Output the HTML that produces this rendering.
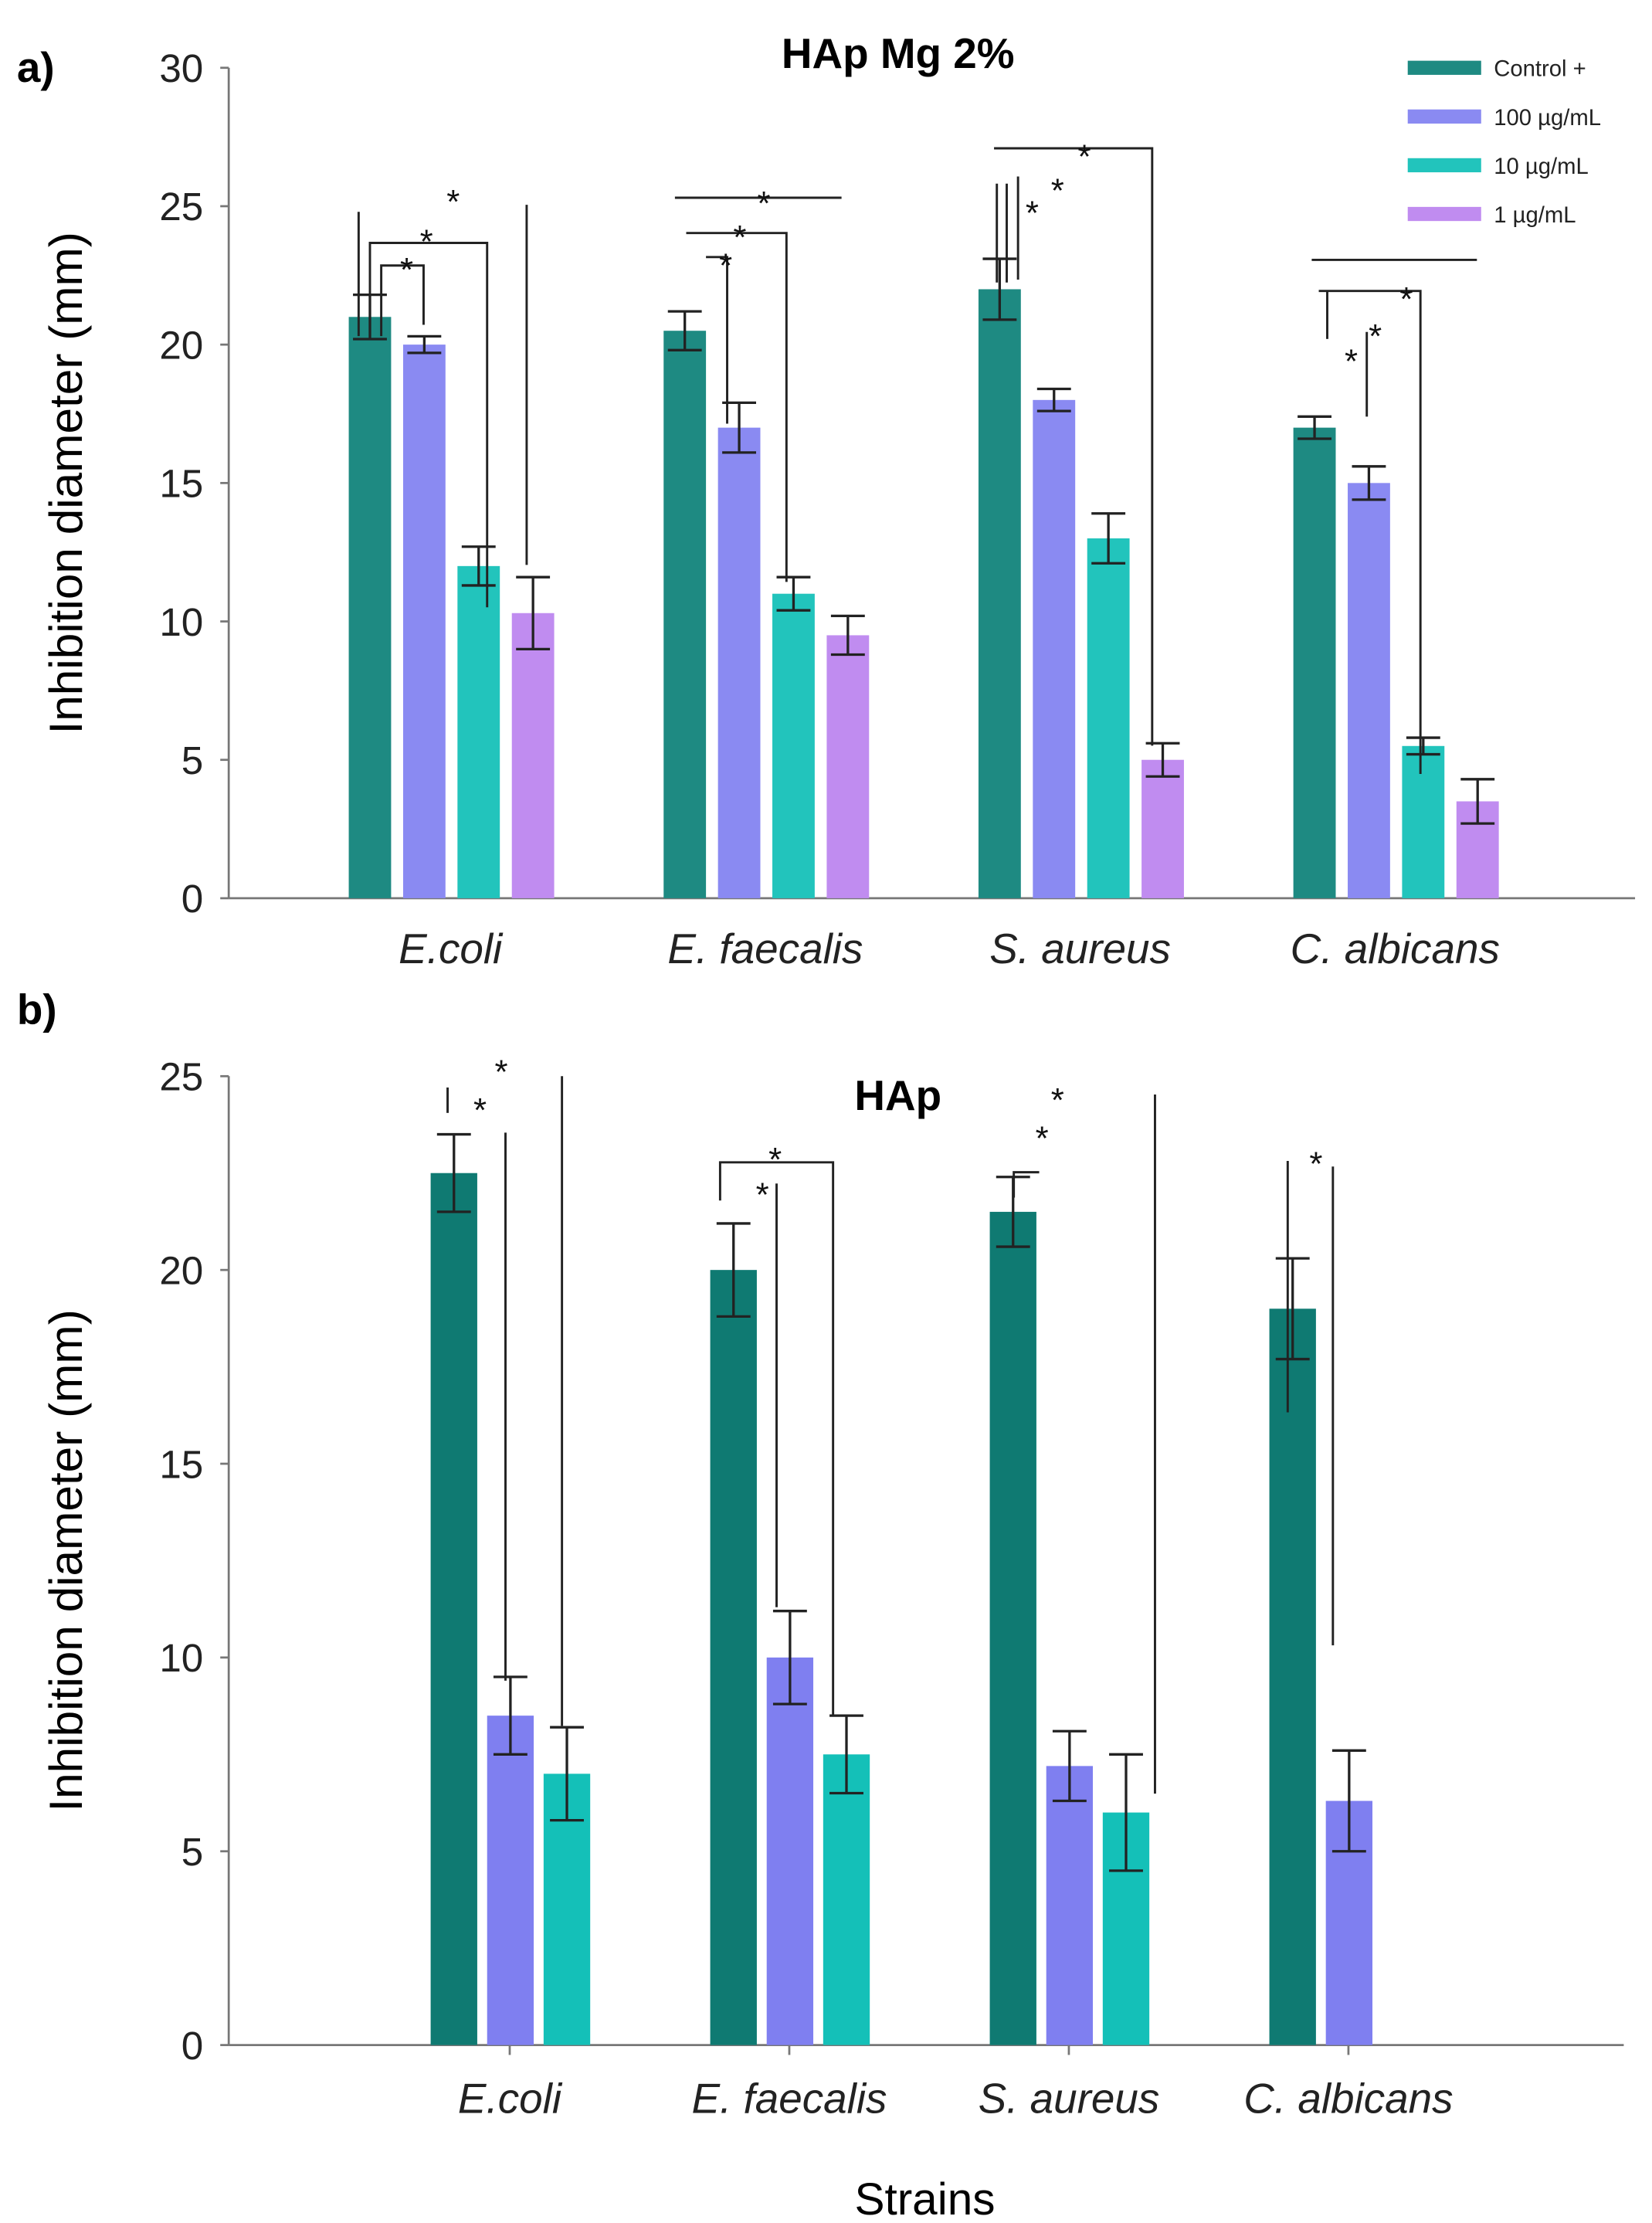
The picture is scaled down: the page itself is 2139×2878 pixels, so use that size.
<!DOCTYPE html>
<html><head><meta charset="utf-8"><style>
html,body{margin:0;padding:0;background:#fff}
svg{display:block}
text{font-family:"Liberation Sans",sans-serif}
</style></head><body>
<svg id="chart" width="2139" height="2878" viewBox="0 0 1170 1574" preserveAspectRatio="none" xmlns="http://www.w3.org/2000/svg">
<text x="12" y="58" font-size="30" font-weight="bold">a)</text>
<text x="636" y="48" font-size="30" font-weight="bold" text-anchor="middle">HAp Mg 2%</text>
<text transform="translate(58,342) rotate(-90)" font-size="33" text-anchor="middle">Inhibition diameter (mm)</text>
<text x="12" y="725" font-size="30" font-weight="bold">b)</text>
<text x="636" y="786" font-size="30" font-weight="bold" text-anchor="middle">HAp</text>
<text transform="translate(58,1105) rotate(-90)" font-size="33" text-anchor="middle">Inhibition diameter (mm)</text>
<text x="655" y="1568" font-size="32" text-anchor="middle">Strains</text>
<g id="ga"></g>
<g id="gb"></g>
<g id="legend"></g>
<g id="sig" stroke="#222" stroke-width="1.6" fill="none"></g>
</svg>
<script>
const categories = ["E.coli","E. faecalis","S. aureus","C. albicans"];
const seriesNames = ["Control +","100 µg/mL","10 µg/mL","1 µg/mL"];
const colorsA = ["#1e8a82","#8a8af2","#22c4bc","#c08cf0"];
const colorsB = ["#0f7a72","#7f7ff0","#14c0b8"];
const aControl = [21,20.5,22,17];
const a100 = [20,17,18,15];
const a10 = [12,11,13,5.5];
const a1 = [10.3,9.5,5,3.5];
const aErrControl = [0.8,0.7,1.1,0.4];
const aErr100 = [0.3,0.9,0.4,0.6];
const aErr10 = [0.7,0.6,0.9,0.3];
const aErr1 = [1.3,0.7,0.6,0.8];
const bControl = [22.5,20,21.5,19];
const b100 = [8.5,10,7.2,6.3];
const b10 = [7,7.5,6,null];
const bErrControl = [1,1.2,0.9,1.3];
const bErr100 = [1,1.2,0.9,1.3];
const bErr10 = [1.2,1,1.5,null];
const aTicks = [0,5,10,15,20,25,30];
const bTicks = [0,5,10,15,20,25];

const NS="http://www.w3.org/2000/svg";
function mk(tag,attrs,parent){const e=document.createElementNS(NS,tag);for(const k in attrs)e.setAttribute(k,attrs[k]);parent.appendChild(e);return e;}

function drawPanel(g,cfg){
  const y=v=>cfg.y0-(v/cfg.vmax)*(cfg.y0-cfg.ytop);
  let ax=mk('line',{x1:cfg.ax,y1:cfg.ytop,x2:cfg.ax,y2:cfg.y0,stroke:'#777','stroke-width':1.5},g);
  
  
  let xa=mk('line',{x1:cfg.ax,y1:cfg.y0,x2:cfg.xend,y2:cfg.y0,stroke:'#777','stroke-width':1.5},g);
  
  
  cfg.ticks.forEach(t=>{
    const tl=mk('line',{x1:cfg.ax-6,y1:y(t),x2:cfg.ax,y2:y(t),stroke:'#777','stroke-width':1.5},g);
    
    
    const tx=mk('text',{x:cfg.ax-18,y:y(t)+10,'font-size':28,'text-anchor':'end',fill:'#222'},g);
    tx.textContent=t;
    
    
  });
  categories.forEach((c,i)=>{
    const gx=cfg.gx0+i*cfg.gpitch;
    cfg.series.forEach((s,j)=>{
      const v=s[i]; if(v==null)return;
      const bx=gx+j*cfg.pitch;
      const r=mk('rect',{x:bx,y:y(v),width:cfg.bw,height:cfg.y0-y(v),fill:cfg.colors[j]},g);
      
      
      const e=cfg.errs[j][i]; const cx=bx+cfg.bw/2;
      const eb=mk('path',{d:`M${cx},${y(v+e)}V${y(v-e)}M${cx-12},${y(v+e)}H${cx+12}M${cx-12},${y(v-e)}H${cx+12}`,stroke:'#222','stroke-width':1.8,fill:'none'},g);
      
      
    });
    const lx=cfg.labelX(gx);
    if(cfg.tickMarks){const tm=mk('line',{x1:lx,y1:cfg.y0,x2:lx,y2:cfg.y0+7,stroke:'#777','stroke-width':1.5},g);
      
      }
    const t=mk('text',{x:lx,y:cfg.y0+cfg.labOff,'font-size':30,'font-style':'italic','text-anchor':'middle',fill:'#222'},g);
    t.textContent=c;
    
    
  });
}
drawPanel(document.getElementById('ga'),{ax:162,ytop:48,y0:636,vmax:30,xend:1158,ticks:aTicks,gx0:247,gpitch:223,pitch:38.5,bw:30,
  series:[aControl,a100,a10,a1],errs:[aErrControl,aErr100,aErr10,aErr1],colors:colorsA,labelX:gx=>gx+72,labOff:46,tickMarks:false});
drawPanel(document.getElementById('gb'),{ax:162,ytop:762,y0:1448,vmax:25,xend:1150,ticks:bTicks,gx0:305,gpitch:198,pitch:40,bw:33,
  series:[bControl,b100,b10],errs:[bErrControl,bErr100,bErr10],colors:colorsB,labelX:gx=>gx+56,labOff:48,tickMarks:true});

const lg=document.getElementById('legend');
seriesNames.forEach((n,i)=>{
  const ly=48+i*34.5;
  const r=mk('rect',{x:997,y:ly-5,width:52,height:10,fill:colorsA[i]},lg);
  
  
  const t=mk('text',{x:1058,y:ly+6,'font-size':16,fill:'#222'},lg);
  t.textContent=n;
  
  
});

const sg=document.getElementById('sig');
const paths=[
 "M254,150V238","M262,238V172H345V430","M270,238V188H300V230","M373,145V400",
 "M478,140H596","M486,165H557V412","M500,182H515V300",
 "M704,105H816V528","M706,130V200","M713,130V200","M721,125V198",
 "M929,184H1046","M934,206H1006V548","M940,206V240","M968,235V295",
 "M317,770V788","M358,802V1190","M398,762V1222",
 "M510,850V823H590V1215","M550,838V1138",
 "M718,848V830H736","M818,775V1270",
 "M912,822V1000","M944,826V1165"];
paths.forEach(d=>{const p=mk('path',{d:d},sg);
  
  });
const stars=[[288,185],[302,165],[321,137],[514,182],[524,162],[541,138],[731,145],[749,129],[768,105],[957,250],[974,232],[996,206],
 [340,780],[355,753],[540,840],[549,815],[738,800],[749,773],[932,818]];
stars.forEach(s=>{const t=mk('text',{x:s[0],y:s[1]+14,'font-size':24,'text-anchor':'middle',fill:'#111',stroke:'none'},sg);
  t.textContent='*';
  
  });
</script>
</body></html>
